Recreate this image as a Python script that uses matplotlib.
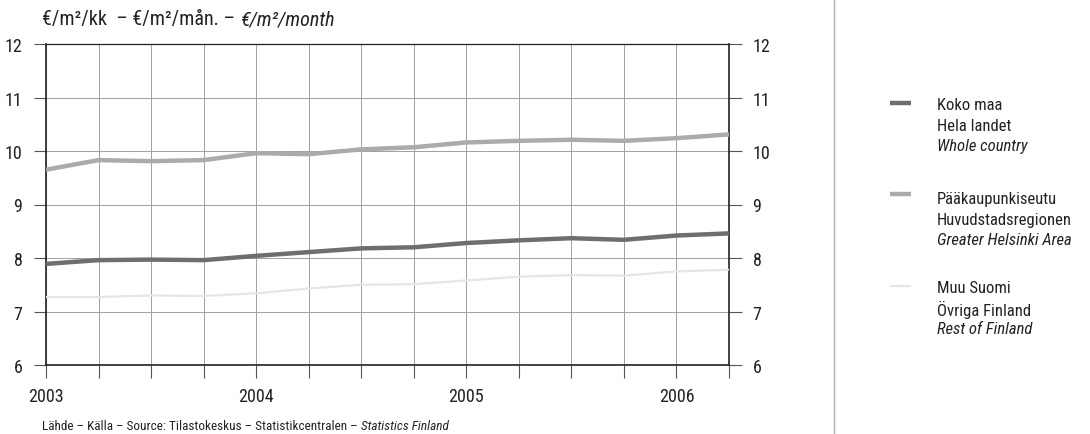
import matplotlib
matplotlib.use("Agg")
import matplotlib.pyplot as plt
from matplotlib import font_manager
from matplotlib.lines import Line2D

# ---------------- data ----------------
quarters = ["2003Q1", "2003Q2", "2003Q3", "2003Q4",
            "2004Q1", "2004Q2", "2004Q3", "2004Q4",
            "2005Q1", "2005Q2", "2005Q3", "2005Q4",
            "2006Q1", "2006Q2"]
year_labels = ["2003", "2004", "2005", "2006"]
year_positions = [0, 4, 8, 12]

koko_maa = [7.89, 7.96, 7.97, 7.96, 8.04, 8.11, 8.18, 8.20,
            8.28, 8.33, 8.37, 8.34, 8.42, 8.46]
paakaupunkiseutu = [9.65, 9.83, 9.81, 9.83, 9.96, 9.94, 10.03, 10.07,
                    10.16, 10.19, 10.21, 10.19, 10.24, 10.31]
muu_suomi = [7.27, 7.27, 7.30, 7.29, 7.34, 7.43, 7.50, 7.51,
             7.58, 7.65, 7.68, 7.67, 7.75, 7.78]

series_names = [
    ["Koko maa", "Hela landet", "Whole country"],
    ["Pääkaupunkiseutu", "Huvudstadsregionen", "Greater Helsinki Area"],
    ["Muu Suomi", "Övriga Finland", "Rest of Finland"],
]
yticks = [6, 7, 8, 9, 10, 11, 12]

# ---------------- fonts ----------------
avail = {f.name for f in font_manager.fontManager.ttflist}
main_font = "DejaVu Sans"
for cand in ["Liberation Sans Narrow", "Roboto Condensed", "Open Sans Condensed", "Roboto"]:
    if cand in avail:
        main_font = cand
        break
plt.rcParams["font.family"] = [main_font, "DejaVu Sans"]

colors = ["#6e6e6e", "#ababab", "#e6e6e6"]
widths = [3.2, 3.2, 1.6]

W, H = 1090, 435
fig = plt.figure(figsize=(W / 100, H / 100), dpi=100)
fig.patch.set_facecolor("white")

ax_left, ax_right, ax_top, ax_bottom = 46, 729, 45, 366
ax = fig.add_axes([ax_left / W, (H - ax_bottom) / H,
                   (ax_right - ax_left) / W, (ax_bottom - ax_top) / H])

x = list(range(len(quarters)))
for vals, c, lw in zip([koko_maa, paakaupunkiseutu, muu_suomi], colors, widths):
    ax.plot(x, vals, color=c, lw=lw, solid_capstyle="butt", zorder=3)

ax.set_xlim(0, len(quarters) - 1)
ax.set_ylim(6, 12)
ax.set_yticks(yticks)
ax.set_xticks(x)
xlabels = [""] * len(x)
for p, lab in zip(year_positions, year_labels):
    xlabels[p] = lab
ax.set_xticklabels(xlabels)
ax.tick_params(axis="x", which="major", direction="out", length=9, width=0.8,
               color="#555555", pad=7, labelsize=13, labelcolor="#222222")
ax.tick_params(axis="y", which="major", direction="out", length=9, width=0.8,
               color="#555555", labelsize=13, labelcolor="#222222", pad=8,
               left=True, right=True, labelleft=True, labelright=True)
ax.grid(True, which="major", color="#a0a0a0", lw=0.7, zorder=0)
for s in ax.spines.values():
    s.set_color("#222222")
    s.set_linewidth(1.2)
ax.spines["top"].set_linewidth(0.9)

# separator line on the right
fig.add_artist(Line2D([834 / W, 834 / W], [0, 1], color="#b0b0b0", lw=1.0))

# ---------------- texts with italic parts ----------------
fig.canvas.draw()
renderer = fig.canvas.get_renderer()


def mixed_text(xpx, ypx, parts, size):
    cur = xpx
    for txt, style in parts:
        t = fig.text(cur / W, (H - ypx) / H, txt, fontsize=size, style=style,
                     ha="left", va="center", color="#222222")
        bb = t.get_window_extent(renderer=renderer)
        cur += bb.width


mixed_text(42, 20, [("€/m²/kk  – €/m²/mån. – ", "normal"),
                    ("€/m²/month", "italic")], 14.5)
mixed_text(42, 427, [("Lähde – Källa – Source: Tilastokeskus – Statistikcentralen – ", "normal"),
                     ("Statistics Finland", "italic")], 9.5)

# ---------------- legend ----------------
leg_line_y = [104, 195, 287]
leg_text_y0 = [106, 200, 289]
for names, c, lw, ly, ty in zip(series_names, colors, widths, leg_line_y, leg_text_y0):
    fig.add_artist(Line2D([890 / W, 911 / W], [(H - ly) / H, (H - ly) / H],
                          color=c, lw=lw, solid_capstyle="butt"))
    for i, nm in enumerate(names):
        fig.text(937 / W, (H - (ty + i * 20.5)) / H, nm, fontsize=12,
                 style="italic" if i == 2 else "normal", ha="left", va="center",
                 color="#222222")

fig.savefig("out.png", dpi=100, facecolor="white")
